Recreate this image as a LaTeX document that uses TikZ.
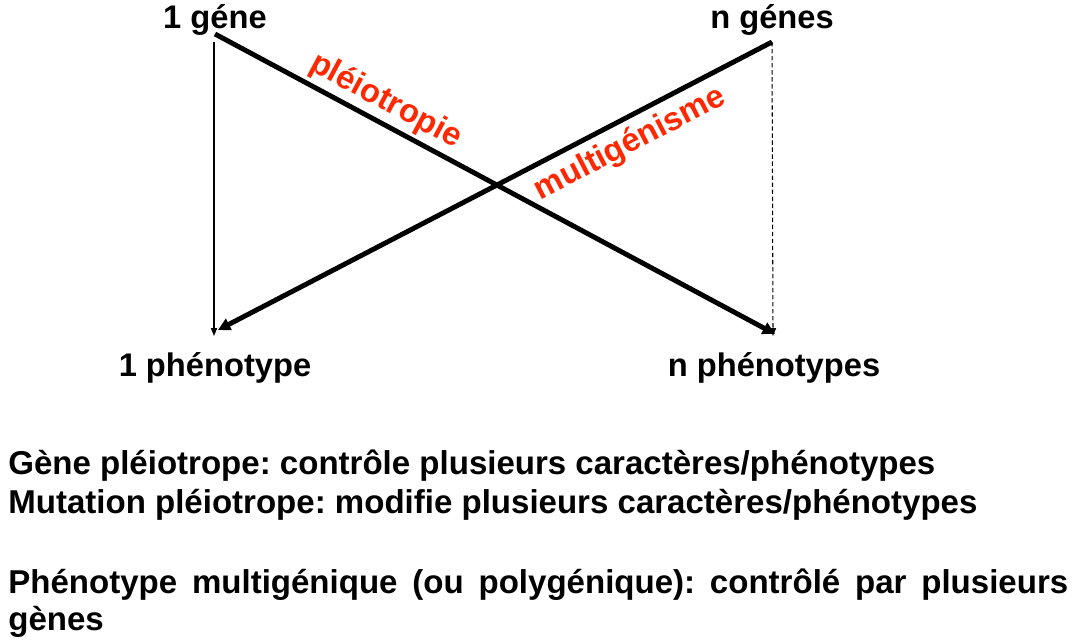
\documentclass[tikz,border=0pt]{standalone}
\usepackage{fontspec}
\setmainfont{Liberation Sans}
\usetikzlibrary{arrows.meta}
\definecolor{labelred}{RGB}{255,40,0}
\frenchspacing

\begin{document}
\begin{tikzpicture}[x=0.02cm, y=-0.02cm,
  lbl/.style={font=\fontsize{18.6}{22}\selectfont\bfseries, inner sep=0pt, anchor=base},
  deflbl/.style={font=\fontsize{18.8}{22}\selectfont\bfseries, inner sep=0pt, anchor=base west},
  redlbl/.style={font=\fontsize{18.6}{22}\selectfont\bfseries, text=labelred, inner sep=0pt},
  bigarrow/.style={line width=2.8pt, -{Triangle[length=7pt, width=7pt]}},
  thinarrow/.style={line width=0.6pt, -{Triangle[length=4.5pt, width=3.5pt]}}]
  \useasboundingbox (0,0) rectangle (1077,643);
  % Genes et phenotypes
  \node[lbl] (gene1) at (215,28) {1 géne};
  \node[lbl] (genen) at (772,28) {n génes};
  \node[lbl] (pheno1) at (215,376) {1 phénotype};
  \node[lbl] (phenon) at (774,376) {n phénotypes};
  % Extremites des fleches
  \coordinate (g1) at (215,34);
  \coordinate (g1v) at (214,42);
  \coordinate (gn) at (772,42);
  \coordinate (p1) at (218,330);
  \coordinate (p1v) at (214,336);
  \coordinate (pn) at (775,334);
  \coordinate (pnv) at (773,336);
  % Verticales
  \draw[thinarrow] (g1v) -- (p1v);
  \draw[thinarrow, dash pattern=on 2.5pt off 1.5pt] (gn) -- (pnv);
  % Pleiotropie
  \draw[bigarrow] (g1) -- (pn)
    node[redlbl, pos=0.287, sloped, above=2pt] {pléiotropie};
  % Multigenisme
  \draw[bigarrow, {Triangle[length=7pt, width=7pt]}-] (p1) -- (gn)
    node[redlbl, pos=0.723, sloped, below=4pt] {multigénisme};
  % Definitions
  \node[deflbl] (def1) at (8,474)
    {Gène pléiotrope: contrôle plusieurs caractères/phénotypes};
  \node[deflbl] (def2) at (8,513)
    {Mutation pléiotrope: modifie plusieurs caractères/phénotypes};
  \node[deflbl] (def3) at (8,593)
    {\makebox[21.2cm][s]{Phénotype multigénique (ou polygénique): contrôlé par plusieurs}};
  \node[deflbl] (def4) at (8,630) {gènes};
\end{tikzpicture}
\end{document}
